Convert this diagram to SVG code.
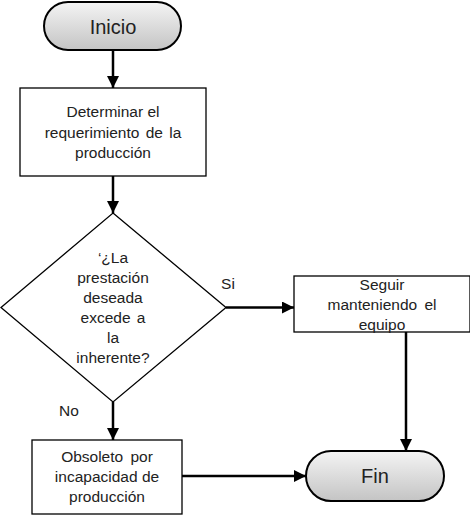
<svg xmlns="http://www.w3.org/2000/svg" width="470" height="517" viewBox="0 0 470 517">
<defs>
<linearGradient id="g" x1="0" y1="0" x2="0" y2="1">
<stop offset="0" stop-color="#f4f4f4"/>
<stop offset="1" stop-color="#c4c4c4"/>
</linearGradient>
<marker id="ah" markerWidth="12" markerHeight="12" viewBox="0 0 12 12" refX="12" refY="6" orient="auto" markerUnits="userSpaceOnUse">
<path d="M0,0 L12,6 L0,12 Z" fill="#000"/>
</marker>
</defs>
<style>
text{font-family:"Liberation Sans",Arial,sans-serif;fill:#222;text-anchor:middle}
.t{font-size:15.5px}
.big{font-size:20px}
.box{fill:#fff;stroke:#000;stroke-width:1.3}
.pill{fill:url(#g);stroke:#000;stroke-width:2}
.c{stroke:#000;stroke-width:2.5;fill:none}
</style>
<rect width="470" height="517" fill="#fff"/>
<g id="connectors">
<line class="c" x1="113" y1="50" x2="113" y2="88" marker-end="url(#ah)"/>
<line class="c" x1="113" y1="176" x2="113" y2="213" marker-end="url(#ah)"/>
<line class="c" x1="226" y1="307.5" x2="294" y2="307.5" marker-end="url(#ah)"/>
<line class="c" x1="113" y1="402" x2="113" y2="440" marker-end="url(#ah)"/>
<line class="c" x1="406" y1="332" x2="406" y2="451" marker-end="url(#ah)"/>
<line class="c" x1="182" y1="476" x2="306" y2="476" stroke-width="2" marker-end="url(#ah)"/>
<text class="t" x="228" y="289">Si</text>
<text class="t" x="69" y="416">No</text>
</g>
<g id="inicio">
<rect class="pill" x="44" y="2" width="137" height="48" rx="24" ry="24"/>
<text class="big" x="113" y="34">Inicio</text>
</g>
<g id="determinar">
<rect class="box" x="20" y="88" width="186" height="88"/>
<text class="t" x="113" y="117">Determinar el</text>
<text class="t" x="113" y="138" style="word-spacing:2px">requerimiento de la</text>
<text class="t" x="113" y="158">producción</text>
</g>
<g id="decision">
<polygon class="box" points="113,213 226,307.5 113,402 1,307.5"/>
<text class="t" x="113" y="263">‘¿La</text>
<text class="t" x="113" y="283">prestación</text>
<text class="t" x="113" y="303">deseada</text>
<text class="t" x="113" y="323" style="word-spacing:2px">excede a</text>
<text class="t" x="113" y="343">la</text>
<text class="t" x="113" y="363">inherente?</text>
</g>
<g id="seguir">
<rect class="box" x="294" y="276" width="176" height="56"/>
<text class="t" x="382" y="290">Seguir</text>
<text class="t" x="382" y="310" style="word-spacing:3px">manteniendo el</text>
<text class="t" x="382" y="330">equipo</text>
</g>
<g id="obsoleto">
<rect class="box" x="32" y="440" width="150" height="74"/>
<text class="t" x="107" y="462" style="word-spacing:3px">Obsoleto por</text>
<text class="t" x="107" y="482">incapacidad de</text>
<text class="t" x="107" y="502">producción</text>
</g>
<g id="fin">
<rect class="pill" x="306" y="451" width="138" height="50" rx="25" ry="25"/>
<text class="big" x="375" y="483">Fin</text>
</g>
</svg>
